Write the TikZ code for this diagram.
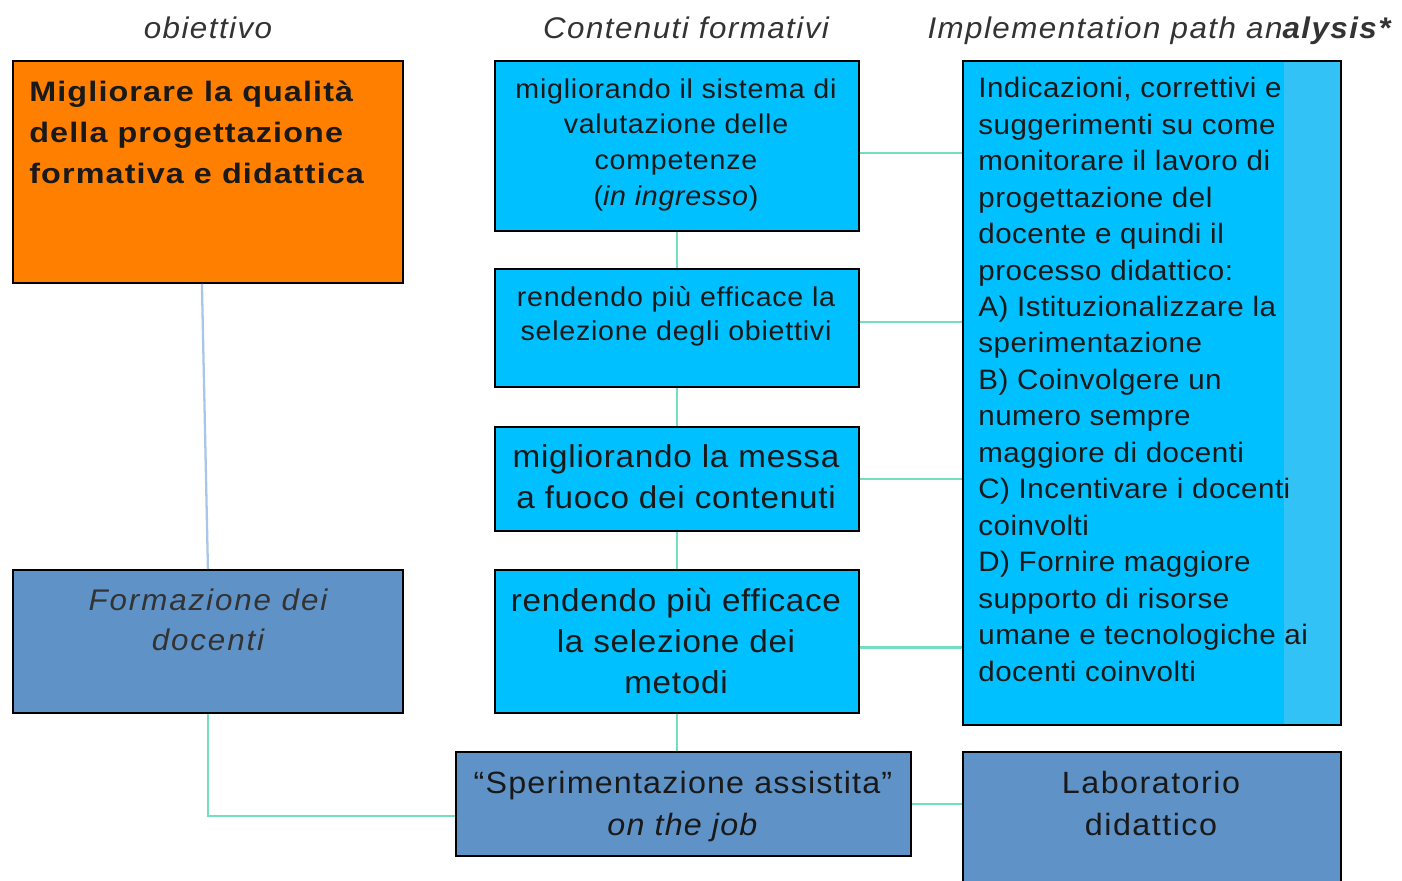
\documentclass[tikz,border=0pt]{standalone}
\usepackage{fontspec}
\setmainfont{Liberation Sans}
\usetikzlibrary{positioning}

\definecolor{goalorange}{HTML}{FF7F00}
\definecolor{skyfill}{HTML}{00C0FF}
\definecolor{skystripe}{HTML}{33C2F5}
\definecolor{steelfill}{HTML}{5F93C8}
\definecolor{tealline}{HTML}{74DEBE}
\definecolor{paleline}{HTML}{A9C6E8}
\definecolor{headgray}{HTML}{333333}

% font size, line skip, letter spacing and stretch in one go
\newcommand{\txt}[4]{\fontsize{#1}{#2}\selectfont\addfontfeature{LetterSpace=#3,FakeStretch=#4}}

\tikzset{
  panel/.style={draw=black, line width=1.1pt, inner sep=0pt, anchor=north west},
  label/.style={inner sep=0pt, text=black!90, anchor=north, align=center},
  head/.style={inner sep=0pt, anchor=base, text=headgray, font=\txt{17}{20}{4.8}{1.05}\itshape},
  link/.style={tealline, line width=1.3pt}
}

\begin{document}
\begin{tikzpicture}[x=0.02cm, y=-0.02cm]
    \useasboundingbox (0,0) rectangle (1402,880);

    % Column headers
    \node[head] (hgoal) at (208,38) {obiettivo};
    \node[head] (hcont) at (686,38) {Contenuti formativi};
    \node[head] (himpl) at (1159,38) {Implementation path an\textbf{alysis*}};

    % Goal and training
    \node[panel, fill=goalorange, minimum width=7.8cm, minimum height=4.44cm] (obj) at (12,60) {};
    \node[panel, fill=steelfill, minimum width=7.8cm, minimum height=2.86cm] (form) at (12,569) {};

    % Contents column
    \node[panel, fill=skyfill, minimum width=7.28cm, minimum height=3.4cm] (c1) at (494,60) {};
    \node[panel, fill=skyfill, minimum width=7.28cm, minimum height=2.36cm] (c2) at (494,268) {};
    \node[panel, fill=skyfill, minimum width=7.28cm, minimum height=2.08cm] (c3) at (494,426) {};
    \node[panel, fill=skyfill, minimum width=7.28cm, minimum height=2.86cm] (c4) at (494,569) {};
    \node[panel, fill=steelfill, minimum width=9.1cm, minimum height=2.08cm] (sper) at (455,751) {};

    % Implementation column
    \node[panel, fill=skyfill, minimum width=7.56cm, minimum height=13.28cm,
          path picture={\fill[skystripe] ([xshift=-1.14cm]path picture bounding box.north east)
                        rectangle (path picture bounding box.south east);}] (impl) at (962,60) {};
    \node[panel, fill=steelfill, minimum width=7.56cm, minimum height=2.8cm] (lab) at (962,751) {};

    % Connectors
    \draw[paleline, line width=1.3pt] ([xshift=-0.12cm]obj.south) -- (form.north);
    \draw[link] (c1) -- (c2);
    \draw[link] (c2) -- (c3);
    \draw[link] (c3) -- (c4);
    \draw[link] (c4.south) -- (c4.south |- sper.north);
    \draw[link] ([yshift=-0.14cm]c1.east) -- ([yshift=-0.14cm]c1.east -| impl.west);
    \draw[link] ([yshift=0.12cm]c2.east) -- ([yshift=0.12cm]c2.east -| impl.west);
    \draw[link] (c3.east) -- (c3.east -| impl.west);
    \draw[link] ([yshift=-0.12cm]c4.east) -- ([yshift=-0.12cm]c4.east -| impl.west);
    \draw[link] (form.south) |- ([yshift=-0.24cm]sper.west);
    \draw[link] (sper.east) -- (sper.east -| lab.west);

    % Texts
    \node[label, anchor=north west, align=left, font=\txt{16}{23.3}{4}{1.15}\bfseries] (tobj) at (29,81)
        {Migliorare la qualità\\della progettazione\\formativa e didattica};
    \node[label, text=headgray, font=\txt{17}{23}{6.3}{1.05}\itshape] (tform) at (208,588)
        {Formazione dei\\docenti};
    \node[label, font=\txt{15.5}{20.4}{2.8}{1.05}] (tc1) at (676,78)
        {migliorando il sistema di\\valutazione delle\\competenze\\(\textit{in ingresso})};
    \node[label, font=\txt{15.5}{19.3}{2.8}{1.05}] (tc2) at (676,286)
        {rendendo più efficace la\\selezione degli obiettivi};
    \node[label, font=\txt{18}{23.4}{2.4}{1.05}] (tc3) at (676,444)
        {migliorando la messa\\a fuoco dei contenuti};
    \node[label, font=\txt{18}{23.4}{2.3}{1.05}] (tc4) at (676,588)
        {rendendo più efficace\\la selezione dei\\metodi};
    \node[label, font=\txt{17.5}{23.8}{3.8}{1.05}] (tsper) at (683,771)
        {“Sperimentazione assistita”\\\textit{on the job}};
    \node[label, font=\txt{17.5}{23.8}{4.8}{1.05}] (tlab) at (1151,771)
        {Laboratorio\\didattico};
    \node[label, anchor=north west, align=left, font=\txt{16}{20.75}{1.8}{1.05}] (timpl) at (978,77)
        {Indicazioni, correttivi e\\suggerimenti su come\\monitorare il lavoro di\\progettazione del\\docente e quindi il\\processo didattico:\\A) Istituzionalizzare la\\sperimentazione\\B) Coinvolgere un\\numero sempre\\maggiore di docenti\\C) Incentivare i docenti\\coinvolti\\D) Fornire maggiore\\supporto di risorse\\umane e tecnologiche ai\\docenti coinvolti};

\end{tikzpicture}
\end{document}
